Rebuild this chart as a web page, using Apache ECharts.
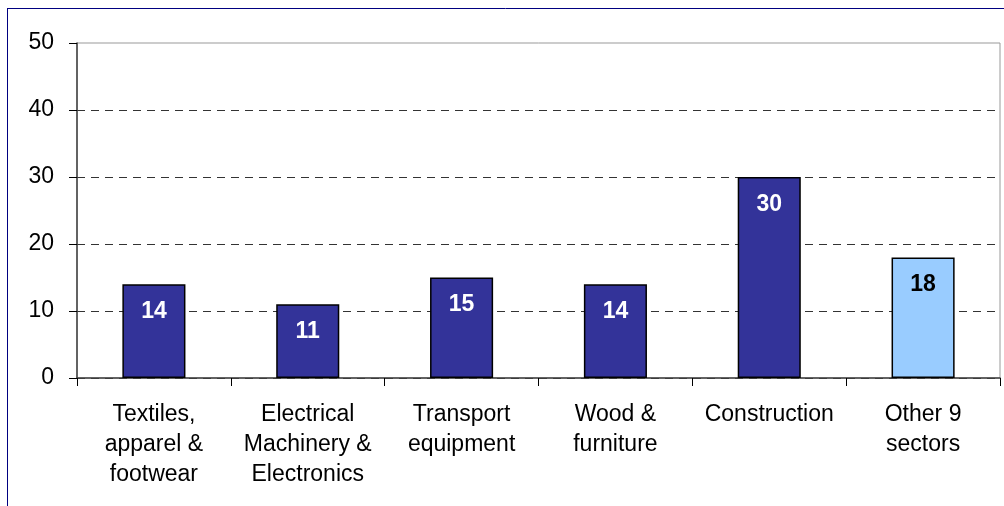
<!DOCTYPE html>
<html>
<head>
<meta charset="utf-8">
<script src="https://cdn.jsdelivr.net/npm/echarts@6/dist/echarts.min.js"></script>
<style>
  html, body { margin: 0; padding: 0; background: #fff; }
  #chart { width: 1004px; height: 506px; }
</style>
</head>
<body>
<div id="chart"></div>
<script>
// Sector labels (line breaks as shown on the axis)
const categories = [
  'Textiles,\napparel &\nfootwear',
  'Electrical\nMachinery &\nElectronics',
  'Transport\nequipment',
  'Wood &\nfurniture',
  'Construction',
  'Other 9\nsectors'
];
const values = [14, 11, 15, 14, 30, 18];
// Last bar groups the remaining sectors and gets a lighter fill
const isOther = [false, false, false, false, false, true];

const mainFill = '#333399';
const otherFill = '#99CCFF';
const fontStack = '"Liberation Sans", Arial, sans-serif';

const seriesData = values.map((v, i) => ({
  value: v,
  itemStyle: { color: isOther[i] ? otherFill : mainFill },
  label: { color: isOther[i] ? '#000000' : '#ffffff' }
}));

const chart = echarts.init(document.getElementById('chart'), null, { renderer: 'canvas' });
chart.setOption({
  animation: false,
  backgroundColor: '#ffffff',
  textStyle: { fontFamily: fontStack },
  grid: {
    left: 77, right: 4, top: 43, bottom: 128,
    show: true, borderColor: '#999999', borderWidth: 1, backgroundColor: 'transparent'
  },
  xAxis: {
    type: 'category',
    data: categories,
    axisLine: { show: true, lineStyle: { color: '#404040', width: 1.5 } },
    axisTick: { show: true, alignWithLabel: false, length: 8, lineStyle: { color: '#000000' } },
    axisLabel: {
      interval: 0, fontSize: 23, lineHeight: 30, color: '#000000', margin: 22,
      fontFamily: fontStack
    }
  },
  yAxis: {
    type: 'value',
    min: 0, max: 50, interval: 10,
    axisLine: { show: true, lineStyle: { color: '#404040', width: 1.5 } },
    axisTick: { show: true, length: 8, lineStyle: { color: '#000000' } },
    axisLabel: {
      fontSize: 23, color: '#000000', margin: 23,
      fontFamily: fontStack
    },
    splitLine: {
      show: true,
      lineStyle: {
        type: [8, 6],
        color: ['#333333', '#333333', '#333333', '#333333', '#333333', 'rgba(0,0,0,0)']
      }
    }
  },
  graphic: [
    { type: 'line', shape: { x1: 7, y1: 8.5, x2: 1004, y2: 8.5 }, style: { stroke: '#000080', lineWidth: 1 } },
    { type: 'line', shape: { x1: 7.5, y1: 8, x2: 7.5, y2: 506 }, style: { stroke: '#000080', lineWidth: 1 } }
  ],
  series: [{
    type: 'bar',
    data: seriesData,
    barWidth: '41%',
    itemStyle: { borderColor: '#000000', borderWidth: 1.5 },
    label: {
      show: true, position: 'insideTop', distance: 16,
      fontSize: 23, fontWeight: 'bold',
      fontFamily: fontStack
    }
  }]
});
</script>
</body>
</html>
